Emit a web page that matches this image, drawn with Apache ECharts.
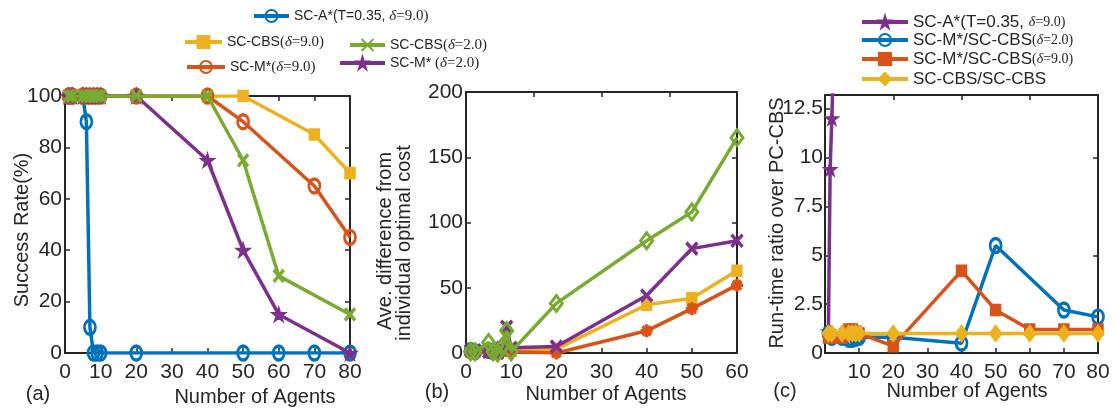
<!DOCTYPE html>
<html>
<head>
<meta charset="utf-8">
<script src="https://cdn.jsdelivr.net/npm/echarts@6/dist/echarts.min.js"></script>
<style>html,body{margin:0;padding:0;background:#fff}#chart{width:1118px;height:410px}</style>
</head>
<body>
<div id="chart"></div>
<script>
// ---------- DATA ----------
// (a) Success rate (%)
const aBlueX   = [1, 2, 5, 6, 7, 8, 9, 10, 20, 50, 60, 70, 80];
const aBlueY   = [100, 100, 100, 90, 10, 0, 0, 0, 0, 0, 0, 0, 0];
const aYellowX = [1, 2, 5, 6, 7, 8, 9, 10, 20, 40, 50, 70, 80];
const aYellowY = [100, 100, 100, 100, 100, 100, 100, 100, 100, 100, 100, 85, 70];
const aOrangeX = [1, 2, 5, 6, 7, 8, 9, 10, 20, 40, 50, 70, 80];
const aOrangeY = [100, 100, 100, 100, 100, 100, 100, 100, 100, 100, 90, 65, 45];
const aGreenX  = [1, 2, 5, 6, 7, 8, 9, 10, 20, 40, 50, 60, 80];
const aGreenY  = [100, 100, 100, 100, 100, 100, 100, 100, 100, 100, 75, 30, 15];
const aPurpleX = [1, 2, 5, 6, 7, 8, 9, 10, 20, 40, 50, 60, 80];
const aPurpleY = [100, 100, 100, 100, 100, 100, 100, 100, 100, 75, 40, 15, 0];

// (b) Ave. difference from individual optimal cost
const bBlueX   = [1, 2, 5, 6];
const bBlueY   = [2, 1, 2, 1];
const bX       = [1, 2, 5, 6, 7, 8, 9, 10, 20, 40, 50, 60];
const bYellowY = [1, 1, 2, 1, 1, 2, 3, 2, 3, 37, 42, 63];
const bOrangeY = [0, 0, 1, 0, 0, 1, 2, 1, 0, 17, 34, 52];
const bPurpleY = [2, 2, 1, 1, 0, 4, 20, 4, 5, 44, 80, 86];
const bGreenY  = [1, 1, 8, 1, 0, 5, 17, 1, 38, 86, 108, 165];

// (c) Run-time ratio over PC-CBS
const cPurpleX = [1, 1.5, 2, 2.5];
const cPurpleY = [1.1, 9.4, 12.0, 15.0];
const cBlueX   = [1, 2, 5, 7, 8, 9, 10, 20, 40, 50, 70, 80];
const cBlueY   = [1.0, 0.8, 0.8, 0.7, 0.7, 0.75, 0.8, 0.8, 0.5, 5.5, 2.2, 1.85];
const cX       = [1, 2, 5, 7, 8, 9, 10, 20, 40, 50, 60, 70, 80];
const cOrangeY = [0.8, 0.8, 0.8, 1.2, 1.2, 1.1, 1.0, 0.35, 4.2, 2.2, 1.2, 1.2, 1.2];
const cYellowY = [1, 1, 1, 1, 1, 1, 1, 1, 1, 1, 1, 1, 1];

// names
const N_A_STAR = 'SC-A*(T=0.35, δ=9.0)';
const N_CBS9 = 'SC-CBS(δ=9.0)';
const N_CBS2 = 'SC-CBS(δ=2.0)';
const N_M9 = 'SC-M*(δ=9.0)';
const N_M2 = 'SC-M* (δ=2.0)';
const N_C_ASTAR = 'c:SC-A*(T=0.35, δ=9.0)';
const N_C_M2 = 'SC-M*/SC-CBS(δ=2.0)';
const N_C_M9 = 'SC-M*/SC-CBS(δ=9.0)';
const N_C_CBS = 'SC-CBS/SC-CBS';

// ---------- STYLE ----------
const C = {blue:'#0072BD', orange:'#D95319', yellow:'#EDB120', purple:'#7E2F8E', green:'#77AC30'};
const TXT = '#262626';
const STAR = 'path://M50,0 L61,35 L98,35 L68,57 L79,91 L50,70 L21,91 L32,57 L2,35 L39,35 Z';
const XMARK = 'path://M0,0 L10,10 M10,0 L0,10';
const ASTER = 'path://M5,0 L5,10 M0,5 L10,5 M1.5,1.5 L8.5,8.5 M8.5,1.5 L1.5,8.5';

function zip(x, y) { return x.map((v, i) => [v, y[i]]); }
function ser(name, x, y, axis, color, symbol, size, mode, z) {
  let itemStyle;
  if (mode === 'hollow') itemStyle = {color: 'rgba(255,255,255,0)', borderColor: color, borderWidth: 3};
  else if (mode === 'stroke') itemStyle = {color: 'rgba(255,255,255,0)', borderColor: color, borderWidth: 3.5};
  else itemStyle = {color: color, borderColor: color, borderWidth: 1.5};
  return {
    type: 'line', name: name, xAxisIndex: axis, yAxisIndex: axis,
    data: zip(x, y), symbol: symbol, symbolSize: size,
    lineStyle: {color: color, width: 3.5}, itemStyle: itemStyle,
    emphasis: {disabled: true}, animation: false, z: z || 2, clip: true
  };
}

const frameLine = {show: true, onZero: false, lineStyle: {color: TXT, width: 2}};
const tickIn = {show: true, inside: true, length: 5, lineStyle: {color: TXT, width: 1.5}};
const lab = {color: TXT, fontSize: 21, fontFamily: 'Liberation Sans'};
function xAx(grid, max, interval, pos, labels, fmt) {
  return {gridIndex: grid, type: 'value', min: 0, max: max, interval: interval, position: pos,
    axisLine: frameLine, axisTick: tickIn, splitLine: {show: false},
    axisLabel: labels ? Object.assign({margin: 9, formatter: fmt}, lab) : {show: false}};
}
function yAx(grid, max, interval, pos, labels, extra) {
  return Object.assign({gridIndex: grid, type: 'value', min: 0, max: max, interval: interval, position: pos,
    axisLine: frameLine, axisTick: tickIn, splitLine: {show: false},
    axisLabel: labels ? Object.assign({margin: 3}, lab) : {show: false}}, extra || {});
}

function fmtLegend(name) {
  const n = name.replace(/^c:/, '');
  return n.replace(/\(δ=([\d.]+)\)/, '{p|(}{d|δ}{p|=$1)}')
          .replace(/, δ=([\d.]+)\)/, ', {d|δ}{p|=$1)}');
}
function legendA(name, left, centerY, iw) {
  return {data: [name], left: left, top: centerY - 9, padding: 0, itemWidth: iw, itemHeight: 15,
    selectedMode: false, formatter: fmtLegend, lineStyle: {width: 4},
    textStyle: {color: TXT, fontSize: 14, fontFamily: 'Liberation Sans', lineHeight: 18,
      rich: {p: {fontFamily: 'Liberation Serif', fontSize: 15, color: TXT, lineHeight: 18},
             d: {fontFamily: 'Liberation Serif', fontStyle: 'italic', fontSize: 15, color: TXT, lineHeight: 18}}}};
}
function legendC(name, centerY) {
  return {data: [name], left: 860, top: centerY - 9, padding: 0, itemWidth: 46, itemHeight: 15,
    selectedMode: false, formatter: fmtLegend, lineStyle: {width: 4},
    textStyle: {color: TXT, fontSize: 17, fontFamily: 'Liberation Sans', lineHeight: 18,
      rich: {p: {fontFamily: 'Liberation Serif', fontSize: 14, color: TXT, lineHeight: 18},
             d: {fontFamily: 'Liberation Serif', fontStyle: 'italic', fontSize: 14, color: TXT, lineHeight: 18}}}};
}
function txt(text, x, y, rot) {
  return {type: 'text', x: x, y: y, rotation: rot || 0, silent: true,
    style: {text: text, font: '20px "Liberation Sans"', fill: TXT,
      textAlign: 'center', align: 'center', textVerticalAlign: 'middle', verticalAlign: 'middle'}};
}

const chart = echarts.init(document.getElementById('chart'), null, {renderer: 'canvas'});
chart.setOption({
  backgroundColor: '#fff',
  animation: false,
  grid: [
    {left: 65, top: 96, width: 285, height: 257, outerBoundsMode: 'none'},
    {left: 466, top: 92, width: 271, height: 261, outerBoundsMode: 'none'},
    {left: 825, top: 95, width: 273, height: 258, outerBoundsMode: 'none'}
  ],
  xAxis: [
    xAx(0, 80, 10, 'bottom', true),
    xAx(0, 80, 10, 'top', false),
    xAx(1, 60, 10, 'bottom', true),
    xAx(1, 60, 15, 'top', false),
    xAx(2, 80, 10, 'bottom', true, v => (v === 0 ? '' : v)),
    xAx(2, 80, 20, 'top', false)
  ],
  yAxis: [
    yAx(0, 100, 20, 'left', true),
    yAx(0, 100, 20, 'right', false),
    yAx(1, 200, 50, 'left', true),
    yAx(1, 200, 50, 'right', false),
    yAx(2, 13.2, 2.5, 'left', true, {axisLabel: Object.assign({margin: 2, showMaxLabel: false}, lab)}),
    yAx(2, 13.2, 5, 'right', false)
  ],
  legend: [
    legendA(N_A_STAR, 252, 16, 35),
    legendA(N_CBS9, 183, 42, 37),
    legendA(N_CBS2, 348, 45, 35),
    legendA(N_M9, 185, 67, 38),
    legendA(N_M2, 338, 63, 45),
    legendC(N_C_ASTAR, 22),
    legendC(N_C_M2, 40),
    legendC(N_C_M9, 59),
    legendC(N_C_CBS, 79)
  ],
  graphic: [
    txt('(a)', 38, 394), txt('Number of Agents', 255, 397),
    txt('(b)', 437, 392), txt('Number of Agents', 606, 394),
    txt('(c)', 785, 391), txt('Number of Agents', 967, 391),
    txt('Success Rate(%)', 22, 230, Math.PI / 2),
    txt('Ave. difference from', 385, 241, Math.PI / 2),
    txt('individual optimal cost', 404, 243, Math.PI / 2),
    txt('Run-time ratio over PC-CBS', 777, 223, Math.PI / 2)
  ],
  series: [
    // (a)
    ser(N_A_STAR, aBlueX, aBlueY, 0, C.blue, 'circle', [11, 14], 'hollow', 2),
    ser(N_CBS9, aYellowX, aYellowY, 0, C.yellow, 'rect', [10, 11], 'fill', 3),
    ser(N_M9, aOrangeX, aOrangeY, 0, C.orange, 'circle', [11, 14], 'hollow', 4),
    ser(N_M2, aPurpleX, aPurpleY, 0, C.purple, STAR, [14, 14], 'fill', 5),
    ser(N_CBS2, aGreenX, aGreenY, 0, C.green, XMARK, [10, 12], 'stroke', 6),
    // (b)
    ser(N_A_STAR, bBlueX, bBlueY, 2, C.blue, 'circle', [11, 14], 'hollow', 2),
    ser(N_CBS9, bX, bYellowY, 2, C.yellow, 'rect', [10, 11], 'fill', 3),
    ser(N_M9, bX, bOrangeY, 2, C.orange, ASTER, [12, 13], 'stroke', 4),
    ser(N_M2, bX, bPurpleY, 2, C.purple, XMARK, [11, 12], 'stroke', 5),
    ser(N_CBS2, bX, bGreenY, 2, C.green, 'diamond', [12, 16], 'hollow', 6),
    // (c)
    ser(N_C_ASTAR, cPurpleX, cPurpleY, 4, C.purple, STAR, [13, 13], 'fill', 2),
    ser(N_C_M2, cBlueX, cBlueY, 4, C.blue, 'circle', [11, 14], 'hollow', 3),
    ser(N_C_M9, cX, cOrangeY, 4, C.orange, 'rect', [10, 11], 'fill', 4),
    ser(N_C_CBS, cX, cYellowY, 4, C.yellow, 'diamond', [12, 16], 'fill', 5)
  ]
});
</script>
</body>
</html>
